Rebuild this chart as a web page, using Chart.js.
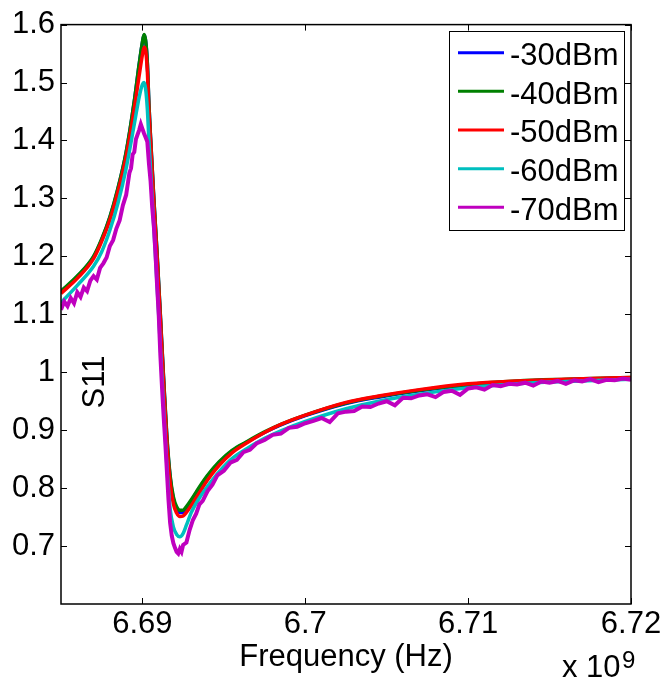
<!DOCTYPE html>
<html>
<head>
<meta charset="utf-8">
<script src="https://cdn.jsdelivr.net/npm/chart.js@4.4.0/dist/chart.umd.min.js"></script>
<style>
html,body{margin:0;padding:0;background:#fff;}
canvas{display:block;}
</style>
</head>
<body>
<canvas id="s11Chart" width="667" height="681"></canvas>
<script>
/* data (frequency in GHz, axis shows x 10^9) */
const seriesLabels = ['-30dBm', '-40dBm', '-50dBm', '-60dBm', '-70dBm'];
const xTicks = [6.69, 6.70, 6.71, 6.72];
const xTickLabels = ['6.69', '6.7', '6.71', '6.72'];
const yTicks = [0.7, 0.8, 0.9, 1.0, 1.1, 1.2, 1.3, 1.4, 1.5, 1.6];
const yTickLabels = ['0.7', '0.8', '0.9', '1', '1.1', '1.2', '1.3', '1.4', '1.5', '1.6'];

const freq = [6.685, 6.686, 6.687, 6.6875, 6.688, 6.6885, 6.689, 6.6895, 6.6898, 6.69,
  6.6901, 6.6902, 6.6903, 6.6904, 6.6905, 6.6907, 6.6909, 6.6911, 6.6913, 6.6915,
  6.6917, 6.6919, 6.6921, 6.6923, 6.6925, 6.6927, 6.693, 6.6935, 6.694, 6.6947,
  6.6955, 6.6964, 6.6975, 6.6985, 6.70, 6.7025, 6.7045, 6.707, 6.71, 6.713,
  6.716, 6.72];

const s11_30 = [1.139, 1.165, 1.199, 1.229, 1.267, 1.317, 1.379, 1.467, 1.531, 1.569,
  1.582, 1.571, 1.534, 1.461, 1.404, 1.299, 1.204, 1.098, 0.988, 0.887,
  0.819, 0.781, 0.764, 0.758, 0.758, 0.765, 0.778, 0.800, 0.821, 0.844,
  0.864, 0.879, 0.896, 0.909, 0.925, 0.946, 0.957, 0.968, 0.978, 0.984,
  0.987, 0.990];

const s11_40 = [1.140, 1.166, 1.200, 1.230, 1.268, 1.318, 1.380, 1.468, 1.532, 1.570,
  1.583, 1.572, 1.535, 1.462, 1.405, 1.300, 1.205, 1.100, 0.990, 0.890,
  0.822, 0.785, 0.768, 0.762, 0.762, 0.768, 0.780, 0.802, 0.822, 0.845,
  0.865, 0.880, 0.897, 0.910, 0.926, 0.947, 0.958, 0.969, 0.979, 0.985,
  0.988, 0.991];

const s11_50 = [1.136, 1.162, 1.196, 1.226, 1.263, 1.312, 1.372, 1.455, 1.512, 1.548,
  1.561, 1.555, 1.520, 1.450, 1.398, 1.293, 1.197, 1.092, 0.982, 0.880,
  0.810, 0.773, 0.757, 0.751, 0.752, 0.758, 0.770, 0.792, 0.814, 0.839,
  0.861, 0.878, 0.896, 0.910, 0.926, 0.948, 0.959, 0.970, 0.980, 0.985,
  0.988, 0.991];

const s11_60 = [1.120, 1.150, 1.183, 1.208, 1.245, 1.292, 1.352, 1.428, 1.475, 1.497,
  1.500, 1.488, 1.455, 1.400, 1.350, 1.250, 1.150, 1.045, 0.940, 0.840,
  0.765, 0.733, 0.720, 0.716, 0.722, 0.736, 0.758, 0.783, 0.803, 0.828,
  0.851, 0.868, 0.886, 0.899, 0.915, 0.937, 0.950, 0.962, 0.973, 0.980,
  0.984, 0.988];

// -70dBm trace is noisy, read on a finer grid
const freq70 = [6.6850, 6.6852, 6.6854, 6.6856, 6.6858, 6.6860, 6.6862, 6.6864, 6.6866, 6.6868,
  6.6870, 6.6872, 6.6874, 6.6876, 6.6878, 6.6880, 6.6882, 6.6884, 6.6886, 6.6888,
  6.6890, 6.6892, 6.6893, 6.6894, 6.6895, 6.6896, 6.6897, 6.6898, 6.6899, 6.6900,
  6.6901, 6.6902, 6.6903, 6.6904, 6.6905, 6.6906, 6.6907, 6.6908, 6.6909, 6.6910,
  6.6911, 6.6912, 6.6913, 6.6914, 6.6915, 6.6916, 6.6917, 6.6918, 6.6919, 6.6920,
  6.6921, 6.6922, 6.6923, 6.6924, 6.6925, 6.6927, 6.6929, 6.6931, 6.6933, 6.6935,
  6.6937, 6.6940, 6.6943, 6.6946, 6.6950, 6.6954, 6.6958, 6.6962, 6.6966, 6.6970,
  6.6975, 6.6980, 6.6985, 6.6990, 6.6995, 6.7000, 6.7005, 6.7010, 6.7015, 6.7020,
  6.7025, 6.7030, 6.7035, 6.7040, 6.7045, 6.7050, 6.7055, 6.7060, 6.7065, 6.7070,
  6.7075, 6.7080, 6.7085, 6.7090, 6.7095, 6.7100, 6.7105, 6.7110, 6.7115, 6.7120,
  6.7125, 6.7130, 6.7135, 6.7140, 6.7145, 6.7150, 6.7155, 6.7160, 6.7165, 6.7170,
  6.7175, 6.7180, 6.7185, 6.7190, 6.7195, 6.7200];

const s11_70 = [1.108, 1.122, 1.114, 1.128, 1.119, 1.138, 1.130, 1.146, 1.140, 1.158,
  1.166, 1.160, 1.180, 1.188, 1.198, 1.218, 1.228, 1.248, 1.262, 1.288,
  1.306, 1.344, 1.352, 1.376, 1.380, 1.402, 1.410, 1.418, 1.428, 1.420,
  1.412, 1.405, 1.398, 1.360, 1.330, 1.285, 1.252, 1.205, 1.150, 1.100,
  1.030, 0.975, 0.925, 0.880, 0.830, 0.780, 0.740, 0.718, 0.705, 0.697,
  0.690, 0.687, 0.695, 0.690, 0.702, 0.706, 0.728, 0.745, 0.756, 0.772,
  0.778, 0.795, 0.806, 0.822, 0.830, 0.844, 0.849, 0.862, 0.866, 0.877,
  0.883, 0.892, 0.894, 0.904, 0.906, 0.912, 0.916, 0.921, 0.914, 0.929,
  0.932, 0.933, 0.941, 0.940, 0.946, 0.950, 0.943, 0.956, 0.955, 0.960,
  0.962, 0.957, 0.966, 0.968, 0.961, 0.972, 0.974, 0.970, 0.978, 0.976,
  0.980, 0.979, 0.982, 0.977, 0.984, 0.982, 0.985, 0.980, 0.986, 0.984,
  0.988, 0.983, 0.987, 0.986, 0.989, 0.987];

/* style */
const FONT = "'Liberation Sans', Arial, sans-serif";
const FSIZE = 31;
const colors = ['#0000ff', '#008000', '#ff0000', '#00bfbf', '#bf00bf'];

const pts = (xs, ys) => xs.map((x, i) => ({x: x, y: ys[i]}));

const traces = [
  pts(freq, s11_30),
  pts(freq, s11_40),
  pts(freq, s11_50),
  pts(freq, s11_60),
  pts(freq70, s11_70)
];

const datasets = seriesLabels.map((label, i) => ({
  label: label,
  data: traces[i],
  borderColor: colors[i],
  backgroundColor: colors[i],
  borderWidth: i == 4 ? 4 : 3.5,
  pointRadius: 0,
  fill: false,
  tension: 0,
  cubicInterpolationMode: i == 4 ? 'default' : 'monotone',
  order: 5 - i   // -70dBm drawn last, on top
}));

// box, inward ticks, ylabel inside the axes, legend and exponent (MATLAB look)
const matlabFrame = {
  id: 'matlabFrame',
  afterDraw(chart) {
    const {ctx, chartArea: a, scales: {x, y}} = chart;
    ctx.save();
    ctx.strokeStyle = '#000';
    ctx.lineWidth = 1.5;
    ctx.strokeRect(a.left, a.top, a.right - a.left, a.bottom - a.top);
    ctx.beginPath();
    x.ticks.forEach(t => {
      const px = Math.round(x.getPixelForValue(t.value)) + 0.5;
      ctx.moveTo(px, a.bottom); ctx.lineTo(px, a.bottom - 6);
      ctx.moveTo(px, a.top); ctx.lineTo(px, a.top + 6);
    });
    y.ticks.forEach(t => {
      const py = Math.round(y.getPixelForValue(t.value)) + 0.5;
      ctx.moveTo(a.left, py); ctx.lineTo(a.left + 6, py);
      ctx.moveTo(a.right, py); ctx.lineTo(a.right - 6, py);
    });
    ctx.lineWidth = 1;
    ctx.stroke();

    ctx.fillStyle = '#000';
    // y label
    ctx.save();
    ctx.font = FSIZE + 'px ' + FONT;
    ctx.translate(a.left + 43, 382);
    ctx.rotate(-Math.PI / 2);
    ctx.textAlign = 'center';
    ctx.textBaseline = 'alphabetic';
    ctx.fillText('S11', 0, 0);
    ctx.restore();

    // x 10^9
    ctx.textAlign = 'left';
    ctx.textBaseline = 'alphabetic';
    ctx.font = FSIZE + 'px ' + FONT;
    ctx.fillText('x 10', 562, 677);
    ctx.font = '24px ' + FONT;
    ctx.fillText('9', 622, 668);

    // legend
    const lx = 449.5, ly = 31.5, lw = 175, lh = 199;
    ctx.fillStyle = '#fff';
    ctx.fillRect(lx, ly, lw, lh);
    ctx.strokeStyle = '#000';
    ctx.lineWidth = 1;
    ctx.strokeRect(lx, ly, lw, lh);
    ctx.font = FSIZE + 'px ' + FONT;
    chart.data.datasets.forEach((ds, i) => {
      const ry = 52.7 + i * 38.65;
      ctx.strokeStyle = ds.borderColor;
      ctx.lineWidth = 3;
      ctx.beginPath();
      ctx.moveTo(458, ry);
      ctx.lineTo(504, ry);
      ctx.stroke();
      ctx.fillStyle = '#000';
      ctx.fillText(ds.label, 510, ry + 12.3);
    });
    ctx.restore();
  }
};

new Chart(document.getElementById('s11Chart').getContext('2d'), {
  type: 'line',
  data: {datasets: datasets},
  options: {
    responsive: false,
    animation: false,
    devicePixelRatio: 1,
    layout: {padding: {left: 0, top: 24, right: 36, bottom: 0}},
    plugins: {legend: {display: false}, tooltip: {enabled: false}},
    scales: {
      x: {
        type: 'linear',
        min: 6.685,
        max: 6.72,
        afterBuildTicks: s => { s.ticks = xTicks.map(v => ({value: v})); },
        afterFit: s => { s.height = 77; },
        grid: {display: false, drawTicks: false},
        border: {display: false},
        ticks: {
          autoSkip: false,
          maxRotation: 0,
          padding: 2,
          color: '#000',
          font: {family: FONT, size: FSIZE},
          callback: (v, i) => xTickLabels[i]
        },
        title: {
          display: true,
          text: 'Frequency (Hz)',
          color: '#000',
          font: {family: FONT, size: FSIZE},
          padding: {top: 0, bottom: 5}
        }
      },
      y: {
        type: 'linear',
        min: 0.6,
        max: 1.6,
        afterBuildTicks: s => { s.ticks = yTicks.map(v => ({value: v})); },
        afterFit: s => { s.width = 61; },
        grid: {display: false, drawTicks: false},
        border: {display: false},
        ticks: {
          autoSkip: false,
          padding: 6,
          color: '#000',
          font: {family: FONT, size: FSIZE},
          callback: (v, i) => yTickLabels[i]
        }
      }
    }
  },
  plugins: [matlabFrame]
});
</script>
</body>
</html>
